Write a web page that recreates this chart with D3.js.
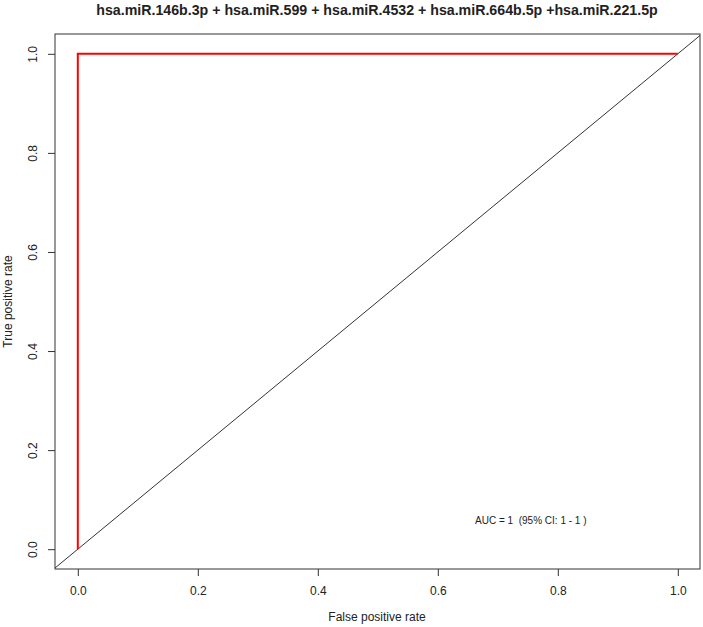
<!DOCTYPE html>
<html>
<head>
<meta charset="utf-8">
<script src="https://cdn.jsdelivr.net/npm/d3@7"></script>
<style>
html,body{margin:0;padding:0;background:#fff;}
svg{display:block;}
text{font-family:"Liberation Sans",Arial,sans-serif;fill:#222;}
</style>
</head>
<body>
<svg id="chart" width="703" height="627"></svg>
<script>
const title = "hsa.miR.146b.3p + hsa.miR.599 + hsa.miR.4532 + hsa.miR.664b.5p +hsa.miR.221.5p";
const xTicks = [0.0, 0.2, 0.4, 0.6, 0.8, 1.0];
const yTicks = [0.0, 0.2, 0.4, 0.6, 0.8, 1.0];
const rocFPR = [0, 0, 1];
const rocTPR = [0, 1, 1];
const aucLabel = "AUC = 1  (95% CI: 1 - 1 )";
const xLabel = "False positive rate";
const yLabel = "True positive rate";

const svg = d3.select("#chart");
const box = {left: 55, right: 700, top: 34, bottom: 569};
const x = d3.scaleLinear().domain([-0.038, 1.037]).range([box.left, box.right]);
const y = d3.scaleLinear().domain([-0.04, 1.04]).range([box.bottom, box.top]);

// title
svg.append("text").attr("x", 377).attr("y", 15)
  .attr("text-anchor", "middle").style("font-weight", "bold").style("font-size", "14.2px")
  .text(title);

// diagonal reference line (y = x), clipped to box
svg.append("line")
  .attr("x1", x(-0.038)).attr("y1", y(-0.038))
  .attr("x2", x(1.037)).attr("y2", y(1.037))
  .attr("stroke", "#333").attr("stroke-width", 1);

// ROC curve
const line = d3.line().x(d => x(d[0])).y(d => y(d[1]));
svg.append("path")
  .datum(rocFPR.map((f, i) => [f, rocTPR[i]]))
  .attr("d", line).attr("fill", "none")
  .attr("stroke", "#ff0000").attr("stroke-width", 2);

// box
svg.append("rect")
  .attr("x", box.left).attr("y", box.top)
  .attr("width", box.right - box.left).attr("height", box.bottom - box.top)
  .attr("fill", "none").attr("stroke", "#333").attr("stroke-width", 1);

// x axis
const xAxis = d3.axisBottom(x).tickValues(xTicks).tickFormat(d3.format(".1f")).tickSize(7).tickPadding(10);
const gx = svg.append("g").attr("transform", `translate(0,${box.bottom})`).call(xAxis);
gx.select(".domain").remove();
gx.selectAll("line").attr("stroke", "#333");
gx.selectAll("text").style("font-size", "12px").attr("fill", "#222");

// y axis
const yAxis = d3.axisLeft(y).tickValues(yTicks).tickFormat(d3.format(".1f")).tickSize(7).tickPadding(0);
const gy = svg.append("g").attr("transform", `translate(${box.left},0)`).call(yAxis);
gy.select(".domain").remove();
gy.selectAll("line").attr("stroke", "#333");
gy.selectAll("text")
  .style("font-size", "12px").attr("fill", "#222")
  .attr("x", null).attr("dy", null)
  .attr("text-anchor", "middle")
  .attr("transform", "translate(-18,0) rotate(-90)")
  .attr("y", 0);

// axis titles
svg.append("text").attr("x", 377).attr("y", 621)
  .attr("text-anchor", "middle").style("font-size", "12px").text(xLabel);
svg.append("text").attr("transform", `translate(12,${(box.top + box.bottom) / 2}) rotate(-90)`)
  .attr("text-anchor", "middle").style("font-size", "12px").text(yLabel);

// AUC annotation
svg.append("text").attr("x", x(0.755)).attr("y", y(0.057) + 3.5)
  .attr("text-anchor", "middle").style("font-size", "10px").style("white-space", "pre")
  .text(aucLabel);
</script>
</body>
</html>
